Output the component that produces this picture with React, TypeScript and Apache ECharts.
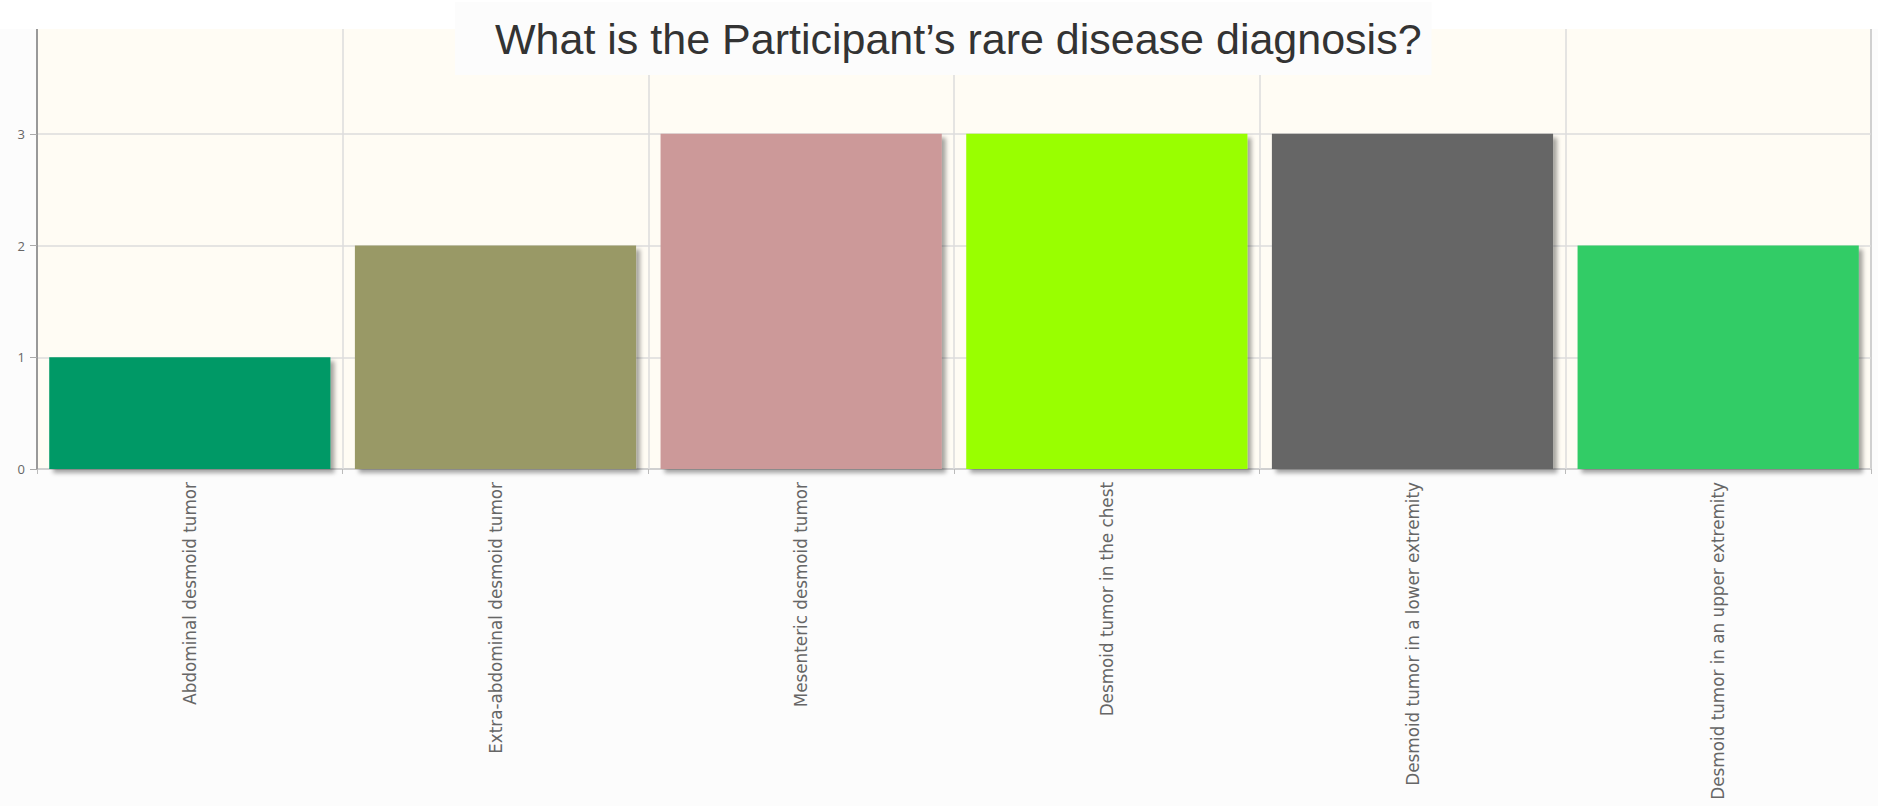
import React, { useEffect, useRef } from "react";
import * as echarts from "echarts";

const titleText = "What is the Participant’s rare disease diagnosis?";
const categories = [
  "Abdominal desmoid tumor",
  "Extra-abdominal desmoid tumor",
  "Mesenteric desmoid tumor",
  "Desmoid tumor in the chest",
  "Desmoid tumor in a lower extremity",
  "Desmoid tumor in an upper extremity",
];
const counts = [1, 2, 3, 3, 3, 2];
const barColors = ["#009966", "#999966", "#cc9999", "#99ff00", "#666666", "#33cc66"];
const yMin = 0;
const yMax = 4;
const yInterval = 1;

export default function App() {
  const ref = useRef<HTMLDivElement>(null);
  useEffect(() => {
    if (!ref.current) return;
    const chart = echarts.init(ref.current, undefined, { renderer: "svg" });
    chart.setOption({
      animation: false,
      backgroundColor: "#fcfcfc",
      title: {
        text: titleText,
        left: 455,
        top: 2,
        padding: [15, 10, 15, 40],
        backgroundColor: "#fcfcfc",
        z: 20,
        textStyle: {
          fontFamily: "Liberation Sans, Arial, sans-serif",
          fontSize: 43,
          fontWeight: "normal",
          color: "#333333",
        },
      },
      graphic: [
        {
          type: "rect",
          z: 15,
          shape: { x: 0, y: 0, width: 1878, height: 29 },
          style: { fill: "#ffffff" },
        },
      ],
      grid: {
        left: 37,
        right: 7,
        top: 22,
        bottom: 337,
        show: true,
        backgroundColor: "#fffcf4",
        borderColor: "#aaaaaa",
        borderWidth: 2,
      },
      xAxis: {
        type: "category",
        data: categories,
        axisLine: {
          lineStyle: {
            color: "#aaaaaa",
            width: 2,
            shadowColor: "rgba(0,0,0,0.2)",
            shadowBlur: 3,
            shadowOffsetY: 2,
          },
        },
        axisTick: { show: true, length: 5, lineStyle: { color: "#bbbbbb" } },
        splitLine: { show: true, lineStyle: { color: "#dddddd", width: 1.5 } },
        axisLabel: {
          rotate: 90,
          interval: 0,
          margin: 13,
          fontFamily: "DejaVu Sans, sans-serif",
          fontSize: 16.8,
          color: "#666666",
        },
      },
      yAxis: {
        type: "value",
        min: yMin,
        max: yMax,
        interval: yInterval,
        axisLine: { show: true, lineStyle: { color: "#999999", width: 2 } },
        axisTick: { show: true, length: 7, lineStyle: { color: "#aaaaaa" } },
        splitLine: { show: true, lineStyle: { color: "#dddddd", width: 1.5 } },
        axisLabel: {
          margin: 12,
          fontFamily: "Open Sans, sans-serif",
          fontSize: 13,
          color: "#666666",
        },
      },
      series: [
        {
          type: "bar",
          data: counts.map((v, i) => ({ value: v, itemStyle: { color: barColors[i] } })),
          barCategoryGap: "8%",
          itemStyle: {
            shadowColor: "rgba(0,0,0,0.35)",
            shadowBlur: 4,
            shadowOffsetX: 4,
            shadowOffsetY: 4,
          },
        },
      ],
    });
    return () => chart.dispose();
  }, []);
  return (
    <div
      ref={ref}
      style={{ position: "fixed", left: 0, top: 0, width: 1878, height: 806 }}
    />
  );
}
